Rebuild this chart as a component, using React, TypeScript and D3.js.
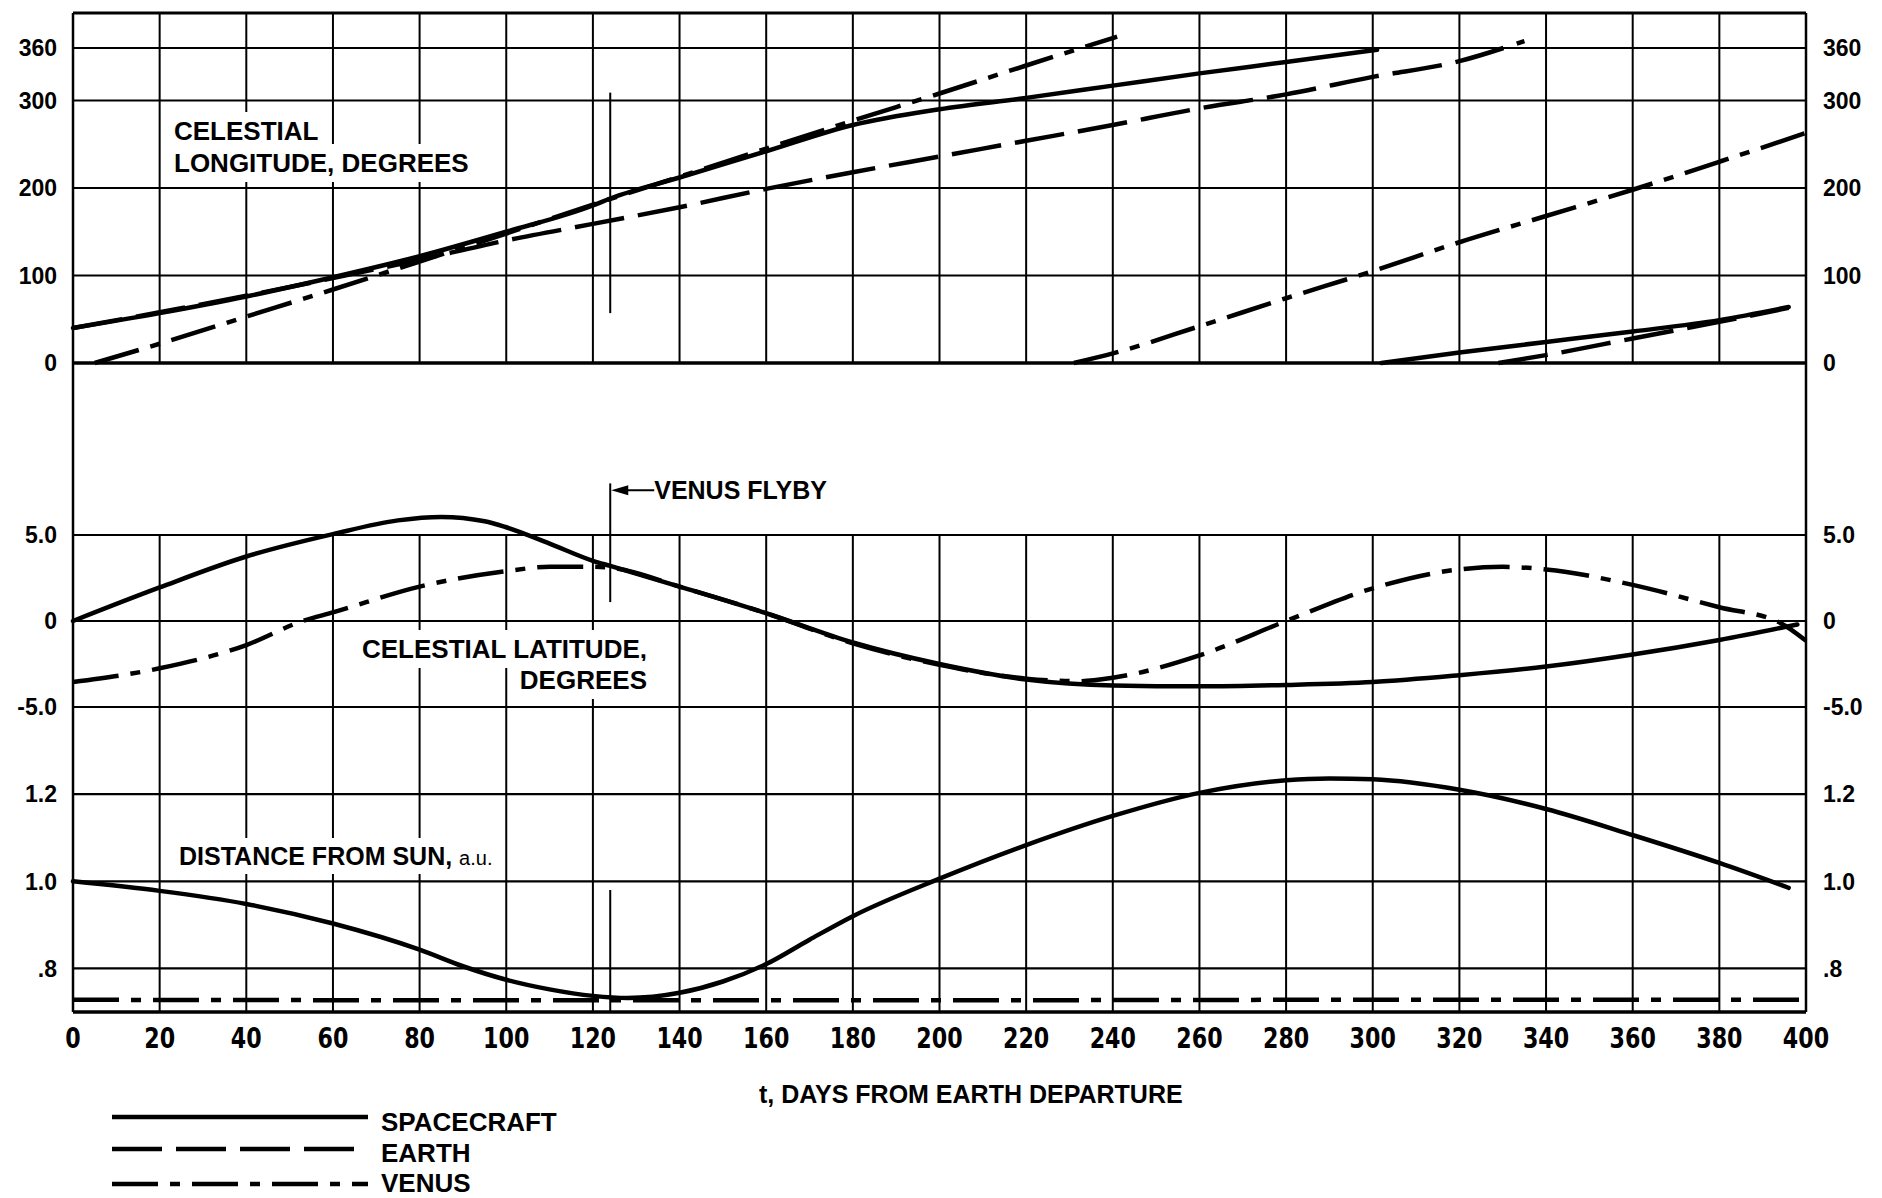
import React, { useEffect, useRef } from "react";
import * as d3 from "d3";

// Axis ticks
const dayTicks = [0, 20, 40, 60, 80, 100, 120, 140, 160, 180, 200, 220, 240, 260, 280, 300, 320, 340, 360, 380, 400];
const lonTicks = [0, 100, 200, 300, 360];
const latTicks = [5, 0, -5];
const latTickLabels = ["5.0", "0", "-5.0"];
const distTicks = [1.2, 1.0, 0.8];
const distTickLabels = ["1.2", "1.0", ".8"];

const flybyDay = 124;

// Celestial longitude, degrees (each lap is a separate run)
const scLonDays1 = [0, 20, 40, 60, 80, 100, 120, 124, 140, 160, 180, 200, 220, 240, 260, 280, 301];
const scLon1 = [40, 57, 76, 98, 122, 150, 180, 188, 212, 242, 272, 290, 303, 317, 331, 344, 358];
const scLonDays2 = [302, 320, 340, 360, 380, 396];
const scLon2 = [0, 12, 24, 36, 49, 64];

const earthLonDays1 = [0, 20, 40, 60, 80, 100, 120, 140, 160, 180, 200, 220, 240, 260, 280, 300, 320, 335];
const earthLon1 = [40, 58, 77, 97, 118, 140, 159, 178, 199, 218, 236, 254, 272, 291, 307, 327, 345, 368];
const earthLonDays2 = [329, 340, 360, 380, 396];
const earthLon2 = [0, 9, 28, 47, 63];

const venusLonDays1 = [5, 20, 40, 60, 80, 100, 120, 140, 160, 180, 200, 220, 241];
const venusLon1 = [0, 22, 53, 84, 116, 148, 181, 213, 245, 277, 308, 340, 373];
const venusLonDays2 = [231, 240, 260, 280, 300, 320, 340, 360, 380, 400];
const venusLon2 = [0, 11, 42, 74, 105, 138, 168, 198, 230, 263];

// Celestial latitude, degrees
const scLatDays = [0, 20, 40, 60, 75, 85, 95, 100, 110, 120, 124, 140, 160, 180, 200, 220, 240, 260, 280, 300, 320, 340, 360, 380, 398];
const scLat = [0, 1.95, 3.75, 5.05, 5.85, 6.05, 5.8, 5.45, 4.5, 3.5, 3.2, 2.0, 0.45, -1.25, -2.5, -3.4, -3.75, -3.8, -3.72, -3.55, -3.15, -2.65, -1.95, -1.1, -0.2];
const venusLatDays = [0, 20, 40, 53, 60, 80, 100, 110, 120, 124, 140, 160, 180, 200, 220, 232, 240, 260, 280, 300, 320, 330, 340, 360, 380, 394, 400];
const venusLat = [-3.55, -2.75, -1.4, 0, 0.5, 2.0, 2.9, 3.15, 3.15, 3.1, 2.0, 0.45, -1.3, -2.55, -3.35, -3.5, -3.3, -2.0, 0.0, 1.9, 3.0, 3.15, 3.0, 2.1, 0.8, -0.1, -1.15];

// Distance from sun, a.u.
const scDistDays = [0, 20, 40, 60, 80, 90, 100, 110, 120, 128, 140, 150, 160, 170, 180, 200, 220, 240, 260, 280, 290, 300, 320, 340, 360, 380, 396];
const scDist = [1.0, 0.978, 0.948, 0.903, 0.843, 0.805, 0.774, 0.752, 0.737, 0.732, 0.744, 0.77, 0.81, 0.866, 0.92, 1.006, 1.083, 1.15, 1.203, 1.232, 1.236, 1.234, 1.21, 1.166, 1.106, 1.042, 0.985];
const venusDistDays = [0, 100, 200, 300, 400];
const venusDist = [0.728, 0.727, 0.727, 0.728, 0.728];

const legendNames = ["SPACECRAFT", "EARTH", "VENUS"];

const FONT = "'Liberation Sans', Arial, sans-serif";
const NARROW = "'Liberation Sans Narrow', 'DejaVu Sans Condensed', sans-serif";
const SOLID = "none";
const EARTH_DASH = "50,14";
const VENUS_DASH = "46,12,10,12";

export default function App() {
  const svgRef = useRef<SVGSVGElement>(null);

  useEffect(() => {
    const svg = d3.select(svgRef.current);
    svg.selectAll("*").remove();

    const x = d3.scaleLinear().domain([0, 400]).range([73, 1806]);
    const yLon = d3.scaleLinear().domain([0, 400]).range([363, 13]);
    const yLat = d3.scaleLinear().domain([-5, 5]).range([707, 535]);
    const yDist = d3.scaleLinear().domain([0.7, 1.4]).range([1012, 707]);

    const top = yLon(400);
    const bottom = yDist(0.7);
    const left = x(0);
    const right = x(400);

    const grid = svg.append("g").attr("stroke", "#000").attr("fill", "none");

    // vertical grid, upper panel and lower two panels
    dayTicks.slice(1, -1).forEach(d => {
      grid.append("line").attr("x1", x(d)).attr("x2", x(d)).attr("y1", yLon(400)).attr("y2", yLon(0)).attr("stroke-width", 2);
      grid.append("line").attr("x1", x(d)).attr("x2", x(d)).attr("y1", yLat(5)).attr("y2", bottom).attr("stroke-width", 2);
    });

    const hLine = (y: number, w: number) =>
      grid.append("line").attr("x1", left).attr("x2", right).attr("y1", y).attr("y2", y).attr("stroke-width", w);
    lonTicks.forEach(v => hLine(yLon(v), v === 0 ? 3.5 : 2));
    latTicks.forEach(v => hLine(yLat(v), 2.2));
    distTicks.forEach(v => hLine(yDist(v), 2.2));

    // frame
    hLine(top, 3);
    hLine(bottom, 3.5);
    grid.append("line").attr("x1", left).attr("x2", left).attr("y1", top).attr("y2", bottom).attr("stroke-width", 2.5);
    grid.append("line").attr("x1", right).attr("x2", right).attr("y1", top).attr("y2", bottom).attr("stroke-width", 2.5);

    // panel labels with white boxes over the grid
    const label = (tx: number, ty: number, txt: string, size: number, anchor = "start", box = false) => {
      const g = svg.append("g");
      const t = g.append("text")
        .attr("x", tx).attr("y", ty)
        .attr("font-family", FONT).attr("font-weight", "bold")
        .attr("font-size", size).attr("text-anchor", anchor)
        .text(txt);
      if (box) {
        const b = (t.node() as SVGTextElement).getBBox();
        g.insert("rect", "text")
          .attr("x", b.x - 8).attr("y", b.y - 4)
          .attr("width", b.width + 16).attr("height", b.height + 8)
          .attr("fill", "#fff");
      }
      return t;
    };

    label(174, 140, "CELESTIAL", 26, "start", true);
    label(174, 172, "LONGITUDE, DEGREES", 26, "start", true);
    label(647, 658, "CELESTIAL LATITUDE,", 26, "end", true);
    label(647, 689, "DEGREES", 26, "end", true);
    const dist = label(179, 865, "DISTANCE FROM SUN, ", 25, "start", true);
    dist.append("tspan").attr("font-size", 20).attr("font-weight", "normal").text("a.u.");

    // venus flyby marker
    const fx = x(flybyDay);
    const marks = svg.append("g").attr("stroke", "#000").attr("stroke-width", 2);
    marks.append("line").attr("x1", fx).attr("x2", fx).attr("y1", yLon(309)).attr("y2", yLon(57));
    marks.append("line").attr("x1", fx).attr("x2", fx).attr("y1", yLat(8.0)).attr("y2", yLat(1.1));
    marks.append("line").attr("x1", fx).attr("x2", fx).attr("y1", yDist(0.98)).attr("y2", bottom);
    const ay = yLat(7.6);
    marks.append("line").attr("x1", fx + 10).attr("x2", fx + 44).attr("y1", ay).attr("y2", ay);
    svg.append("path")
      .attr("d", `M${fx + 1},${ay} L${fx + 18},${ay - 5} L${fx + 18},${ay + 5} Z`)
      .attr("fill", "#000");
    label(fx + 44, ay + 9, "VENUS FLYBY", 25);

    // data lines
    const line = (ys: d3.ScaleLinear<number, number>) =>
      d3.line<[number, number]>().x(d => x(d[0])).y(d => ys(d[1])).curve(d3.curveMonotoneX);

    const series: [number[], number[], d3.ScaleLinear<number, number>, string][] = [
      [earthLonDays1, earthLon1, yLon, EARTH_DASH],
      [earthLonDays2, earthLon2, yLon, EARTH_DASH],
      [venusLonDays1, venusLon1, yLon, VENUS_DASH],
      [venusLonDays2, venusLon2, yLon, VENUS_DASH],
      [scLonDays1, scLon1, yLon, SOLID],
      [scLonDays2, scLon2, yLon, SOLID],
      [venusLatDays, venusLat, yLat, VENUS_DASH],
      [scLatDays, scLat, yLat, SOLID],
      [venusDistDays, venusDist, yDist, VENUS_DASH],
      [scDistDays, scDist, yDist, SOLID],
    ];
    const lines = svg.append("g").attr("fill", "none").attr("stroke", "#000").attr("stroke-width", 4.5).attr("stroke-linecap", "round");
    series.forEach(([days, vals, ys, dash]) => {
      lines.append("path")
        .attr("d", line(ys)(d3.zip(days, vals) as [number, number][]))
        .attr("stroke-dasharray", dash)
        .attr("stroke-linecap", dash === SOLID ? "round" : "butt");
    });

    // y tick labels, both sides
    const yLabels: [number, string][] = [
      ...lonTicks.map(v => [yLon(v), String(v)] as [number, string]),
      ...latTicks.map((v, i) => [yLat(v), latTickLabels[i]] as [number, string]),
      ...distTicks.map((v, i) => [yDist(v), distTickLabels[i]] as [number, string]),
    ];
    const yl = svg.append("g").attr("font-family", FONT).attr("font-weight", "bold").attr("font-size", 23);
    yLabels.forEach(([py, txt]) => {
      yl.append("text").attr("x", left - 16).attr("y", py).attr("dy", "0.36em").attr("text-anchor", "end").text(txt);
      yl.append("text").attr("x", right + 17).attr("y", py).attr("dy", "0.36em").attr("text-anchor", "start").text(txt);
    });

    // x tick labels
    const xl = svg.append("g").attr("font-family", NARROW).attr("font-weight", "bold").attr("font-size", 29).attr("text-anchor", "middle");
    dayTicks.forEach(d => {
      xl.append("text").attr("transform", `translate(${x(d)},${1048}) scale(0.85,1)`).text(String(d));
    });

    label(759, 1103, "t, DAYS FROM EARTH DEPARTURE", 25);

    // legend
    const legDash = [SOLID, EARTH_DASH, VENUS_DASH];
    const legLineY = [1117, 1149, 1184];
    const legTextY = [1131, 1162, 1192];
    legendNames.forEach((name, i) => {
      svg.append("line")
        .attr("x1", 112).attr("x2", 368).attr("y1", legLineY[i]).attr("y2", legLineY[i])
        .attr("stroke", "#000").attr("stroke-width", 4.5)
        .attr("stroke-dasharray", legDash[i]);
      label(381, legTextY[i], name, 26);
    });
  }, []);

  return (
    <svg
      ref={svgRef}
      width={1882}
      height={1198}
      style={{ position: "absolute", left: 0, top: 0, background: "#fff" }}
    />
  );
}
